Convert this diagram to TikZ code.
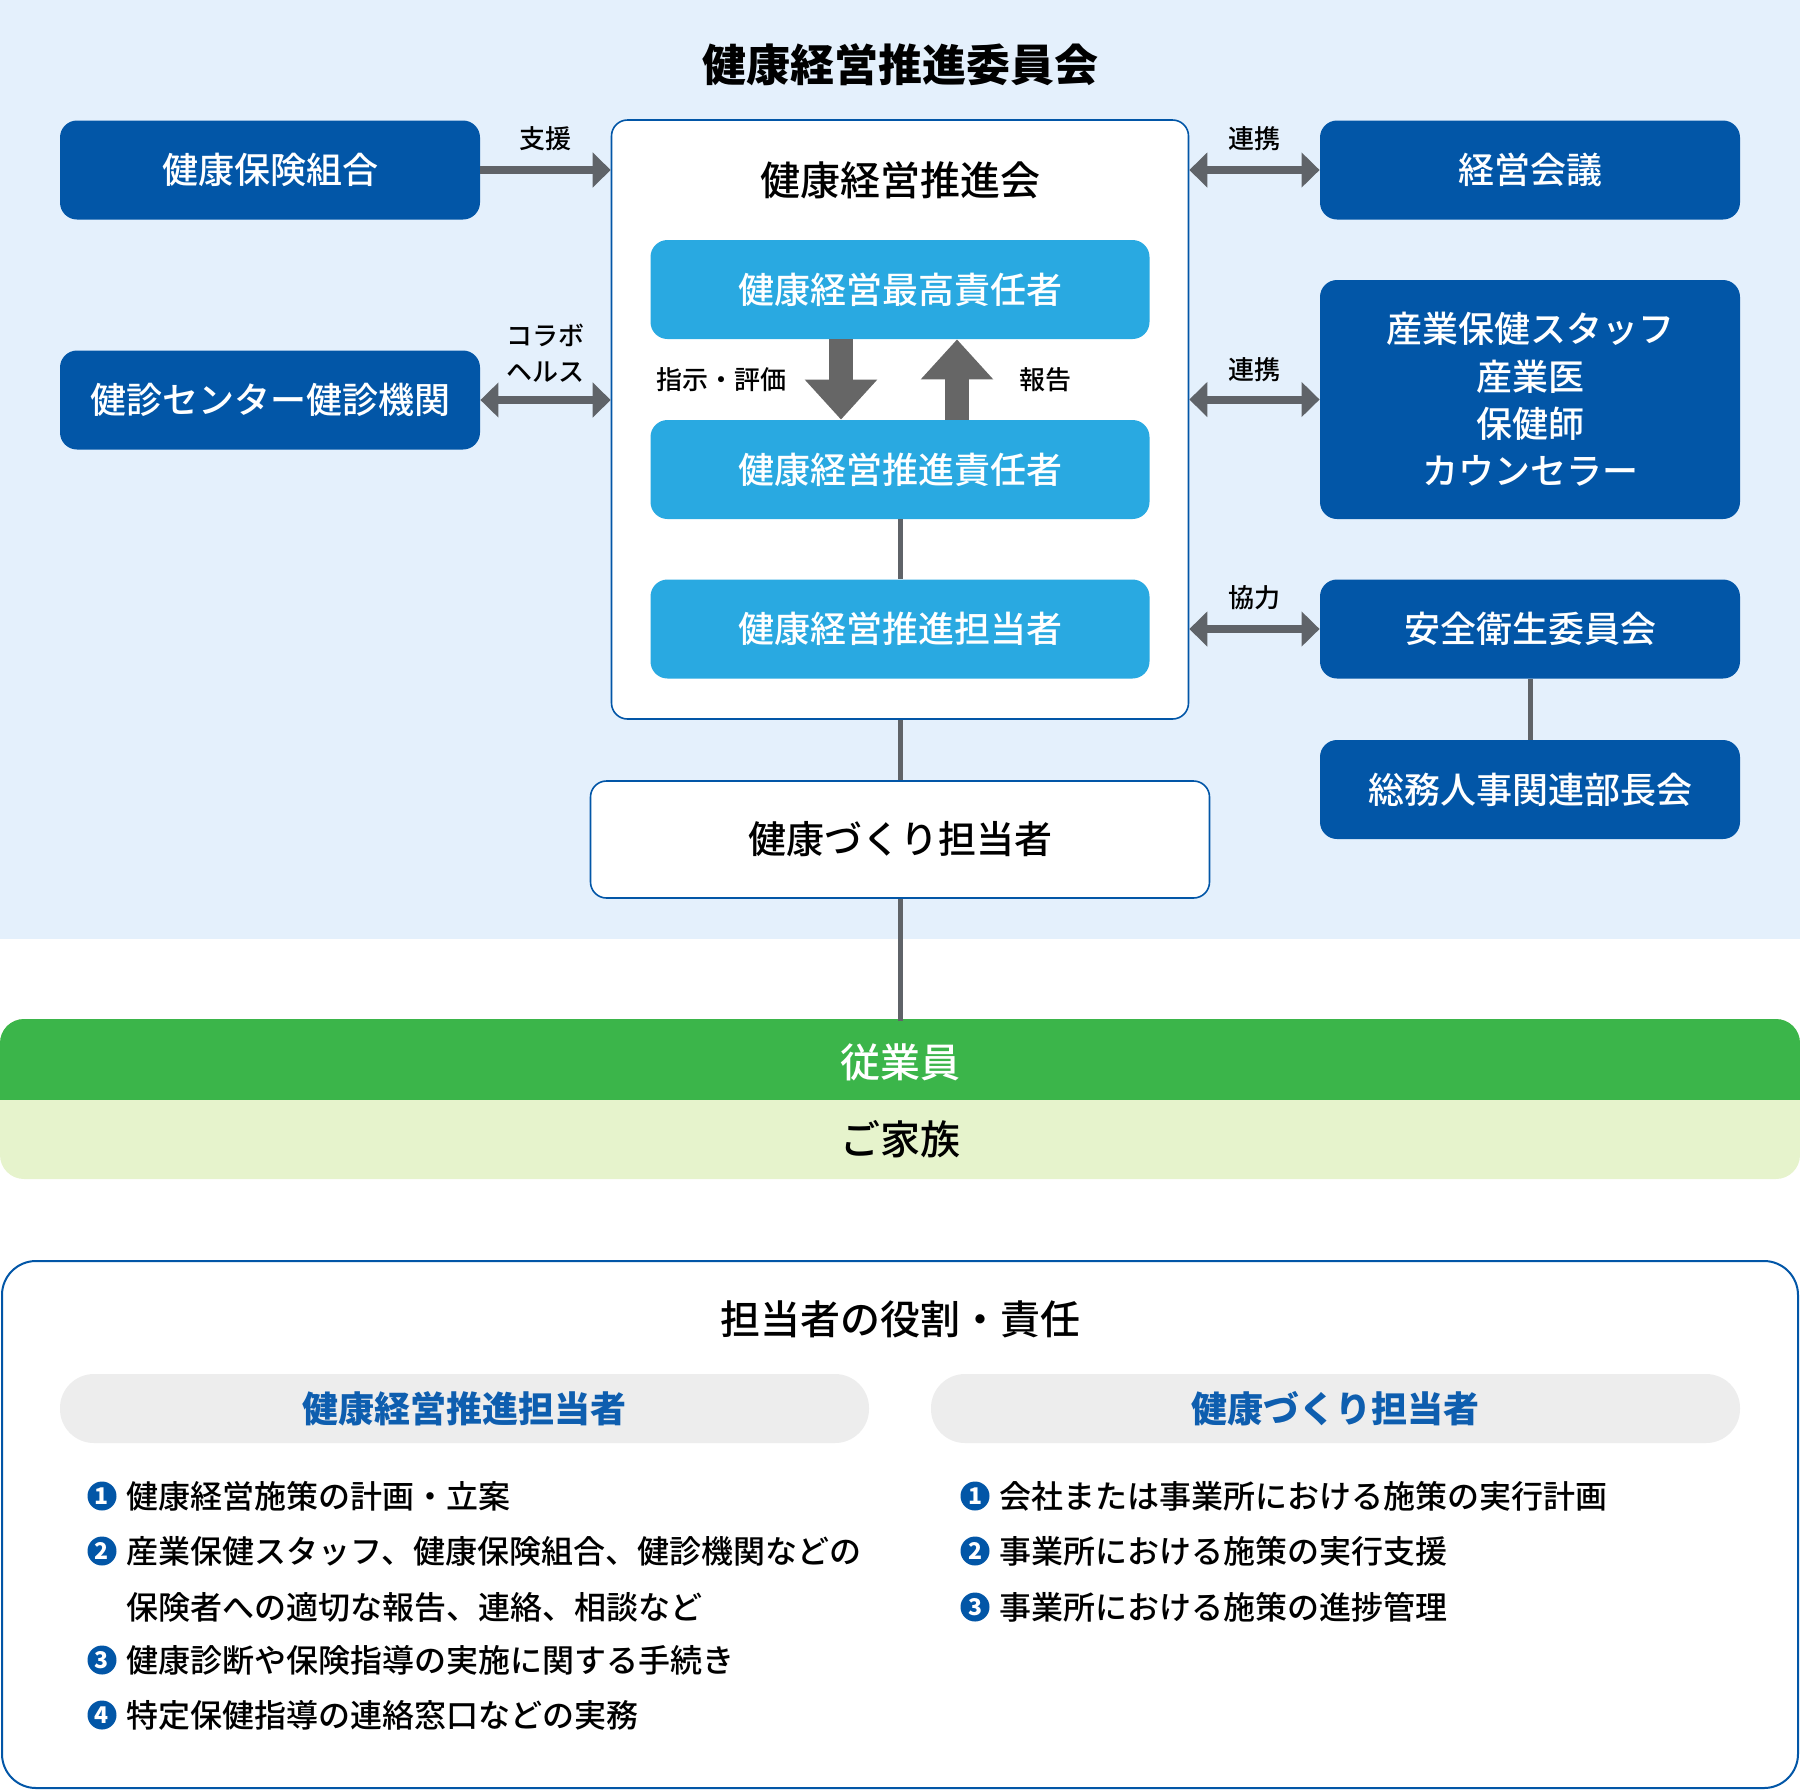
\documentclass[tikz,border=0pt]{standalone}
\usepackage{fontspec}
\setmainfont{Noto Sans CJK JP}
\IfFontExistsTF{Noto Sans CJK JP Medium}
 {\newfontfamily\medf{Noto Sans CJK JP Medium}}
 {\newfontfamily\medf[FakeBold=0.6]{Noto Sans CJK JP}}
\usetikzlibrary{arrows.meta,calc}
\definecolor{bgblue}{HTML}{E4F0FC}
\definecolor{dblue}{HTML}{0256A7}
\definecolor{lblue}{HTML}{29A9E1}
\definecolor{agray}{HTML}{5F6368}
\definecolor{fgray}{HTML}{666666}
\definecolor{jgreen}{HTML}{3BB54A}
\definecolor{lgreen}{HTML}{E6F3CC}
\definecolor{pgray}{HTML}{EDEDED}
\definecolor{ptext}{HTML}{0E5EAF}
\newcommand{\fsz}[2]{\medf\fontsize{#1}{#2}\selectfont}
\begin{document}
\begin{tikzpicture}[x=0.5pt,y=-0.5pt,
 dbox/.style={rectangle, rounded corners=8.5pt, fill=dblue, text=white, inner sep=0pt, minimum width=210pt, minimum height=49.5pt, font=\fsz{18pt}{23.7pt}, align=center},
 lbox/.style={rectangle, rounded corners=8.5pt, fill=lblue, text=white, inner sep=0pt, minimum width=249.5pt, minimum height=49.5pt, font=\fsz{18pt}{22pt}},
 wbox/.style={rectangle, rounded corners=8pt, fill=white, draw=dblue, line width=0.8pt, inner sep=0pt},
 dbl/.style={{Triangle[length=9pt,width=17pt]}-{Triangle[length=9pt,width=17pt]}, line width=4pt, draw=agray},
 sgl/.style={-{Triangle[length=9pt,width=17pt]}, line width=4pt, draw=agray},
 fat/.style={-{Triangle[length=20pt,width=35pt]}, line width=12pt, draw=fgray},
 conn/.style={line width=2.5pt, draw=agray},
 lab/.style={font=\fsz{13pt}{18pt}, align=center, inner sep=0pt},
 pill/.style={rectangle, rounded corners=17pt, fill=pgray, minimum width=404.5pt, minimum height=34.5pt, inner sep=0pt, text=ptext, font=\bfseries\fontsize{18pt}{22pt}\selectfont},
 bul/.style={circle, fill=dblue, text=white, minimum size=14.5pt, inner sep=0pt, font=\bfseries\fontsize{11.5pt}{11.5pt}\selectfont},
 item/.style={anchor=west, inner sep=0pt, font=\fsz{16pt}{20pt}},
 band/.style={rectangle, minimum width=900pt, minimum height=40.5pt, inner sep=0pt, font=\fsz{20pt}{24pt}},
]
\useasboundingbox (0,0) rectangle (1800,1790);
% background
\fill[bgblue] (0,0) rectangle (1800,939);
% title
\node[font=\bfseries\fontsize{22pt}{26pt}\selectfont] (title) at (900,65) {健康経営推進委員会};
% central container
\node[wbox, minimum width=288.5pt, minimum height=299.5pt] (kaigi) at (900,419.5) {};
\node[font=\fsz{20pt}{24pt}] (kaigiT) at (900,180) {健康経営推進会};
% left boxes
\node[dbox] (kenpo) at (270,170) {健康保険組合};
\node[dbox] (kenshin) at (270,400) {健診センター健診機関};
% right boxes
\node[dbox] (keiei) at (1530,170) {経営会議};
\node[dbox, minimum height=119.5pt] (sangyo) at (1530,399.5) {産業保健スタッフ\\産業医\\保健師\\カウンセラー};
\node[dbox] (anzen) at (1530,629) {安全衛生委員会};
\node[dbox] (somu) at (1530,789.5) {総務人事関連部長会};
% inner boxes
\node[lbox] (saiko) at (900,289.5) {健康経営最高責任者};
\node[lbox] (sekinin) at (900,469.5) {健康経営推進責任者};
\node[lbox] (tanto) at (900,629) {健康経営推進担当者};
% zukuri
\node[wbox, minimum width=309.5pt, minimum height=58.5pt, font=\fsz{19pt}{23pt}] (zukuri) at (900,839.5) {健康づくり担当者};
% side arrows
\draw[sgl] (kenpo.east) -- (kenpo.east -| kaigi.west);
\draw[dbl] (kenshin.east) -- (kenshin.east -| kaigi.west);
\draw[dbl] (keiei.west -| kaigi.east) -- (keiei.west);
\draw[dbl] (sangyo.west -| kaigi.east) -- (sangyo.west);
\draw[dbl] (anzen.west -| kaigi.east) -- (anzen.west);
% labels
\node[lab] (l1) at (545,139) {支援};
\node[lab] (l2) at (545,353) {コラボ\\ヘルス};
\node[lab] (l3) at (1254,139) {連携};
\node[lab] (l4) at (1254,370) {連携};
\node[lab] (l5) at (1254,598) {協力};
\node[lab] (l6) at (721,380) {指示・評価};
\node[lab] (l7) at (1045,380) {報告};
% fat arrows
\coordinate (dnx) at (841,0);
\coordinate (upx) at (957,0);
\draw[fat] (saiko.south -| dnx) -- (sekinin.north -| dnx);
\draw[fat] (sekinin.north -| upx) -- (saiko.south -| upx);
% band
\fill[lgreen, rounded corners=12pt] (0,1019) rectangle (1800,1179);
\fill[jgreen, rounded corners=12pt] (0,1019) rectangle (1800,1140);
\fill[lgreen] (0,1100) rectangle (1800,1150);
\node[band, text=white] (jugyoin) at (900,1062) {従業員};
\node[band, text=black] (kazoku) at (900,1139.5) {ご家族};
% connectors
\draw[conn] (sekinin.south) -- (tanto.north);
\draw[conn] (kaigi.south) -- (zukuri.north);
\draw[conn] (anzen.south) -- (somu.north);
\draw[conn] (zukuri.south) -- (jugyoin.north);
% roles box
\node[wbox, line width=1pt, rounded corners=17pt, minimum width=898pt, minimum height=263.5pt] (roles) at (900,1524.5) {};
\node[font=\fsz{20pt}{24pt}] (rolesT) at (900,1319) {担当者の役割・責任};
\node[pill] (pl) at (464.5,1408.5) {健康経営推進担当者};
\node[pill] (pr) at (1335.5,1408.5) {健康づくり担当者};
% left list
\node[bul] (a1b) at (102,1496) {1};
\node[item] (a1) at (126,1496) {健康経営施策の計画・立案};
\node[bul] (a2b) at (102,1551) {2};
\node[item] (a2) at (126,1551) {産業保健スタッフ、健康保険組合、健診機関などの};
\node[item] (a2c) at (126,1607) {保険者への適切な報告、連絡、相談など};
\node[bul] (a3b) at (102,1660) {3};
\node[item] (a3) at (126,1660) {健康診断や保険指導の実施に関する手続き};
\node[bul] (a4b) at (102,1715) {4};
\node[item] (a4) at (126,1715) {特定保健指導の連絡窓口などの実務};
% right list
\node[bul] (b1b) at (975,1496) {1};
\node[item] (b1) at (999,1496) {会社または事業所における施策の実行計画};
\node[bul] (b2b) at (975,1551) {2};
\node[item] (b2) at (999,1551) {事業所における施策の実行支援};
\node[bul] (b3b) at (975,1607) {3};
\node[item] (b3) at (999,1607) {事業所における施策の進捗管理};
\end{tikzpicture}
\end{document}
